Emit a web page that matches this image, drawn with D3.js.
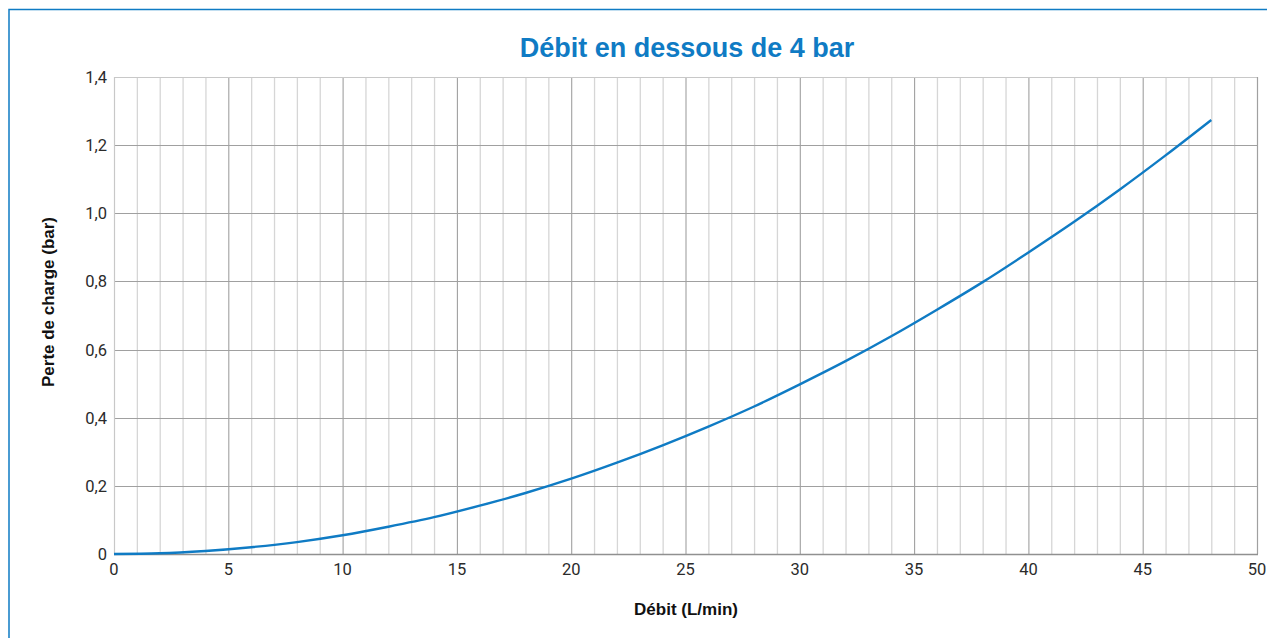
<!DOCTYPE html>
<html>
<head>
<meta charset="utf-8">
<script src="https://cdn.jsdelivr.net/npm/d3@7"></script>
<style>
  body { margin: 0; background: #fff; }
  svg { display: block; }
</style>
</head>
<body>
<svg width="1267" height="638"></svg>
<script>
// flow (L/min) vs pressure loss (bar)
var debit = [0, 2, 4, 6, 8, 10, 12, 14, 16, 18, 20, 22, 24, 26, 28, 30, 32, 34, 36, 38, 40, 42, 44, 46, 48];
var perte = [0, 0.002, 0.009, 0.02, 0.035, 0.055, 0.08, 0.108, 0.142, 0.179, 0.221, 0.268, 0.319, 0.374, 0.433,
             0.498, 0.566, 0.639, 0.717, 0.798, 0.885, 0.975, 1.07, 1.17, 1.274];
var xTicks = [0, 5, 10, 15, 20, 25, 30, 35, 40, 45, 50];
var yTicks = [0, 0.2, 0.4, 0.6, 0.8, 1.0, 1.2, 1.4];

var blue = '#0f7bc4';
var svg = d3.select('svg');

// outer frame (left + top only visible)
svg.append('path')
	.attr('d', 'M9,638 V9.5 H1267')
	.attr('fill', 'none')
	.attr('stroke', blue)
	.attr('stroke-width', 1.5);

var x = d3.scaleLinear().domain([0, 50]).range([114, 1257]);
var y = d3.scaleLinear().domain([0, 1.4]).range([554, 77]);

var fmt = function(d){ return d === 0 ? '0' : d3.format('.1f')(d).replace('.', ','); };

// minor vertical grid
svg.append('g').selectAll('line')
	.data(d3.range(1, 50).filter(function(d){ return d % 5 !== 0; }))
	.enter().append('line')
	.attr('x1', function(d){ return x(d) + 0.5; })
	.attr('x2', function(d){ return x(d) + 0.5; })
	.attr('y1', y(1.4)).attr('y2', y(0))
	.style('stroke', '#d6d6d6').style('stroke-width', 1.3);

// major vertical grid
svg.append('g').selectAll('line')
	.data(xTicks.slice(1, -1))
	.enter().append('line')
	.attr('x1', function(d){ return x(d) + 0.5; })
	.attr('x2', function(d){ return x(d) + 0.5; })
	.attr('y1', y(1.4)).attr('y2', y(0))
	.style('stroke', '#a0a0a0').style('stroke-width', 1.1);

// horizontal grid
svg.append('g').selectAll('line')
	.data(yTicks.slice(1, -1))
	.enter().append('line')
	.attr('x1', x(0)).attr('x2', x(50))
	.attr('y1', function(d){ return Math.round(y(d)) + 0.5; })
	.attr('y2', function(d){ return Math.round(y(d)) + 0.5; })
	.style('stroke', '#a0a0a0').style('stroke-width', 1.1);

// plot borders
svg.append('line').attr('x1', x(0)).attr('x2', x(50)).attr('y1', y(1.4) + 0.5).attr('y2', y(1.4) + 0.5)
	.style('stroke', '#c8c8c8').style('stroke-width', 1.2);
svg.append('line').attr('x1', x(0) + 0.5).attr('x2', x(0) + 0.5).attr('y1', y(1.4)).attr('y2', y(0))
	.style('stroke', '#c8c8c8').style('stroke-width', 1.2);
svg.append('line').attr('x1', x(50) + 0.5).attr('x2', x(50) + 0.5).attr('y1', y(1.4)).attr('y2', y(0))
	.style('stroke', '#a0a0a0').style('stroke-width', 1.2);
svg.append('line').attr('x1', x(0)).attr('x2', x(50) + 1).attr('y1', y(0) + 0.5).attr('y2', y(0) + 0.5)
	.style('stroke', '#909090').style('stroke-width', 1.3);

// tick labels
svg.append('g').selectAll('text')
	.data(yTicks).enter().append('text')
	.attr('x', 107)
	.attr('y', function(d){ return y(d) + 6; })
	.attr('text-anchor', 'end')
	.style('font-family', 'Roboto, sans-serif')
	.style('font-size', '16.5px')
	.style('fill', '#2b2b2b')
	.text(fmt);

svg.append('g').selectAll('text')
	.data(xTicks).enter().append('text')
	.attr('x', function(d){ return x(d); })
	.attr('y', 575)
	.attr('text-anchor', 'middle')
	.style('font-family', 'Roboto, sans-serif')
	.style('font-size', '16.5px')
	.style('fill', '#2b2b2b')
	.text(function(d){ return d; });

// curve
var line = d3.line()
	.x(function(d, i){ return x(debit[i]); })
	.y(function(d){ return y(d); })
	.curve(d3.curveMonotoneX);

svg.append('path')
	.datum(perte)
	.attr('d', line)
	.attr('fill', 'none')
	.style('stroke', blue)
	.style('stroke-width', 2.4);

// titles
svg.append('text')
	.attr('x', 687).attr('y', 57)
	.attr('text-anchor', 'middle')
	.style('font-family', '"Liberation Sans", Arial, sans-serif')
	.style('font-weight', 'bold')
	.style('font-size', '27px')
	.style('fill', blue)
	.text('Débit en dessous de 4 bar');

svg.append('text')
	.attr('x', 686).attr('y', 615)
	.attr('text-anchor', 'middle')
	.style('font-family', '"Liberation Sans", Arial, sans-serif')
	.style('font-weight', 'bold')
	.style('font-size', '17px')
	.style('fill', '#111')
	.text('Débit (L/min)');

svg.append('text')
	.attr('transform', 'translate(54,302) rotate(-90)')
	.attr('text-anchor', 'middle')
	.style('font-family', '"Liberation Sans", Arial, sans-serif')
	.style('font-weight', 'bold')
	.style('font-size', '17px')
	.style('fill', '#111')
	.text('Perte de charge (bar)');
</script>
</body>
</html>
